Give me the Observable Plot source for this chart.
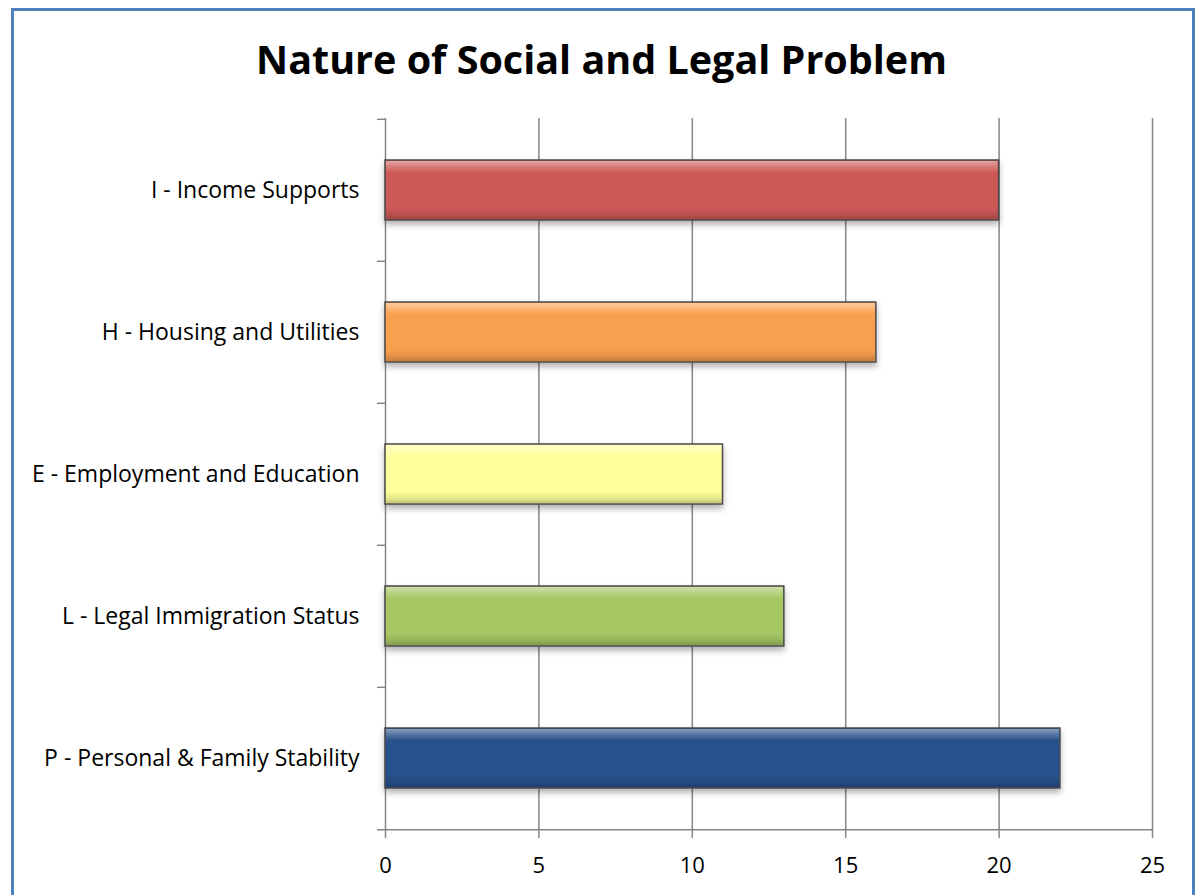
<!DOCTYPE html>
<html>
<head>
<meta charset="utf-8">
<script src="https://cdn.jsdelivr.net/npm/d3@7"></script>
<script src="https://cdn.jsdelivr.net/npm/@observablehq/plot@0.6"></script>
<style>
  html, body { margin: 0; padding: 0; background: #fff; }
  #wrap { position: relative; width: 1203px; height: 895px; overflow: hidden; font-family: "Open Sans", sans-serif; }
  #frame { position: absolute; left: 11px; top: 8px; width: 1184px; height: 920px; border: 3px solid #4f81bd; box-sizing: border-box; }
  #title { position: absolute; left: 0; top: 31px; width: 1203px; text-align: center; font-size: 39.5px; font-weight: bold; color: #000; line-height: 56px; }
  #chart { position: absolute; left: 0; top: 100px; }
</style>
</head>
<body>
<div id="wrap">
  <div id="frame"></div>
  <div id="title">Nature of Social and Legal Problem</div>
  <div id="chart"></div>
</div>
<script>
const categories = ["I - Income Supports", "H - Housing and Utilities", "E - Employment and Education", "L - Legal Immigration Status", "P - Personal & Family Stability"];
const values = [20, 16, 11, 13, 22];
const colors = ["#cd5957", "#f9a04f", "#ffff9c", "#a6c763", "#27518a"];
const xTicks = [0, 5, 10, 15, 20, 25];

const data = categories.map((c, i) => ({category: c, value: values[i], color: colors[i]}));

const W = 1203, H = 795;
const mTop = 18, mBottom = 65, mLeft = 385, mRight = 51;
const step = (H - mTop - mBottom) / categories.length;
const tickLen = 8 / ((W - mLeft - mRight) / 25);

const defs = () => {
  const g = d3.create("svg:defs");
  const lg = g.append("linearGradient").attr("id", "shine").attr("x1", 0).attr("y1", 0).attr("x2", 0).attr("y2", 1);
  [[0, "#fff", 0.45], [0.1, "#fff", 0.2], [0.2, "#fff", 0], [0.8, "#000", 0], [0.92, "#000", 0.1], [1, "#000", 0.22]]
    .forEach(([o, c, a]) => lg.append("stop").attr("offset", o).attr("stop-color", c).attr("stop-opacity", a));
  return g.node();
};

const chart = Plot.plot({
  width: W,
  height: H,
  marginTop: mTop,
  marginBottom: mBottom,
  marginLeft: mLeft,
  marginRight: mRight,
  style: {fontFamily: "Open Sans, sans-serif", fontSize: "20px", color: "#000", background: "transparent"},
  x: {domain: [0, 25], ticks: xTicks, label: null},
  y: {domain: categories, paddingInner: 0.58, paddingOuter: 0.29, align: 0.5, label: null},
  marks: [
    defs,
    Plot.ruleX(xTicks, {stroke: "#868686", strokeWidth: 1.5, strokeOpacity: 1}),
    Plot.ruleY(categories, {y: d => d, x1: -tickLen, x2: 0, dy: -step / 2, stroke: "#868686", strokeWidth: 1.5}),
    Plot.ruleY([categories[categories.length - 1]], {y: d => d, x1: -tickLen, x2: 25, dy: step / 2, stroke: "#868686", strokeWidth: 1.5}),
    Plot.barX(data, {y: "category", x: "value", fill: "color", stroke: "#4a4a4a", strokeWidth: 1.5, imageFilter: "drop-shadow(0px 4px 3px rgba(0,0,0,0.3))"}),
    Plot.barX(data, {y: "category", x: "value", fill: "url(#shine)", inset: 1}),
    Plot.axisX({ticks: xTicks, tickSize: 8, tickPadding: 19, stroke: "#868686", strokeWidth: 1.5, fontSize: 22, fill: "#000", label: null}),
    Plot.axisY({tickSize: 0, tickPadding: 26, fontSize: 23, fill: "#000", label: null})
  ]
});
document.getElementById("chart").appendChild(chart);
</script>
</body>
</html>
